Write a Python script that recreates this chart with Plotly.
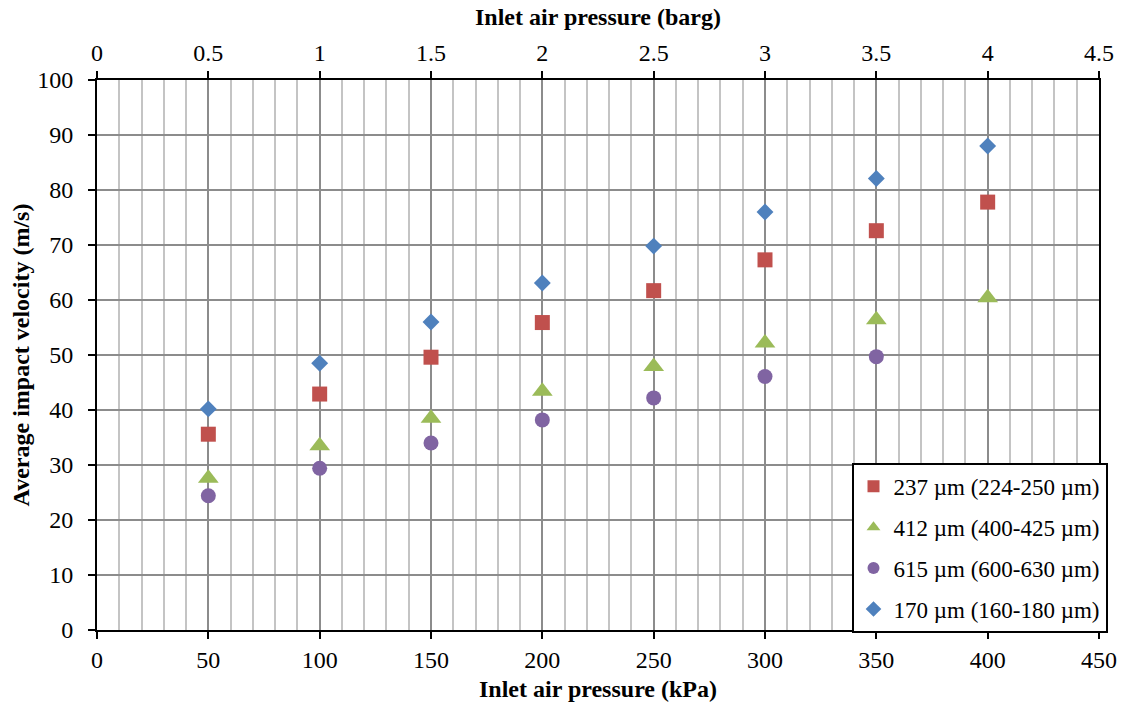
import plotly.graph_objects as go

pressure_kpa = [50, 100, 150, 200, 250, 300, 350, 400]
v_237 = [35.6, 42.9, 49.6, 55.9, 61.7, 67.3, 72.6, 77.8]
v_412 = [27.6, 33.5, 38.5, 43.4, 47.9, 52.2, 56.4, 60.4]
v_615 = [24.4, 29.4, 34.0, 38.2, 42.2, 46.1, 49.7]
v_170 = [40.2, 48.5, 56.0, 63.1, 69.8, 76.0, 82.1, 88.0]

names = ["237 µm (224-250 µm)", "412 µm (400-425 µm)", "615 µm (600-630 µm)", "170 µm (160-180 µm)"]
colors = ["#C0504D", "#9BBB59", "#8064A2", "#4F81BD"]
symbols = ["square", "triangle-up", "circle", "diamond"]
sizes = [15, 18, 15, 13]
series = [v_237, v_412, v_615, v_170]

FONT = "Liberation Serif, Times New Roman, serif"
FS = 24

fig = go.Figure()
for i, (nm, ys) in enumerate(zip(names, series)):
    fig.add_trace(go.Scatter(
        x=pressure_kpa[:len(ys)], y=ys, mode="markers", name=nm,
        legendgroup=f"g{i}",
        marker=dict(symbol=symbols[i], size=sizes[i], color=colors[i], line=dict(width=0)),
    ))

# invisible trace to enable top axis
fig.add_trace(go.Scatter(x=[0, 4.5], y=[0, 0], xaxis="x2", mode="markers",
                         marker=dict(opacity=0), showlegend=False, hoverinfo="skip"))

fig.update_layout(
    width=1130, height=710,
    margin=dict(l=97, r=31, t=80, b=80),
    paper_bgcolor="white", plot_bgcolor="white",
    font=dict(family=FONT, size=FS, color="black"),
    xaxis=dict(
        range=[0, 450], dtick=50, tick0=0,
        showgrid=True, gridcolor="#8c8c8c", gridwidth=2,
        minor=dict(dtick=10, showgrid=True, gridcolor="#c4c4c4", gridwidth=2),
        showline=True, linecolor="black", linewidth=2,
        ticks="outside", ticklen=7, tickwidth=2, tickcolor="black",
        zeroline=False,
        title=dict(text="<b>Inlet air pressure (kPa)</b>", standoff=8, font=dict(size=FS)),
    ),
    xaxis2=dict(
        range=[0, 4.5], dtick=0.5, tick0=0, overlaying="x", side="top",
        showgrid=False, zeroline=False,
        showline=True, linecolor="black", linewidth=2,
        ticks="outside", ticklen=7, tickwidth=2, tickcolor="black",
    ),
    yaxis=dict(
        range=[0, 100], dtick=10,
        showgrid=True, gridcolor="#8c8c8c", gridwidth=2,
        showline=True, linecolor="black", linewidth=2, mirror=True,
        ticks="outside", ticklen=7, tickwidth=2, tickcolor="black",
        ticklabelstandoff=10,
        zeroline=False,
        title=dict(text="<b>Average impact velocity (m/s)</b>", standoff=1, font=dict(size=FS)),
    ),
    legend=dict(
        x=0.753, y=0.304, xanchor="left", yanchor="top",
        bgcolor="white", bordercolor="black", borderwidth=2,
        font=dict(family=FONT, size=23), tracegroupgap=8,
        itemsizing="constant",
    ),
    annotations=[dict(
        text="<b>Inlet air pressure (barg)</b>", xref="paper", yref="paper",
        x=0.5, y=1 + (80 - 17) / 550, xanchor="center", yanchor="middle",
        showarrow=False, font=dict(family=FONT, size=FS, color="black"),
    )],
    showlegend=True,
)

fig.write_html("out.html")
